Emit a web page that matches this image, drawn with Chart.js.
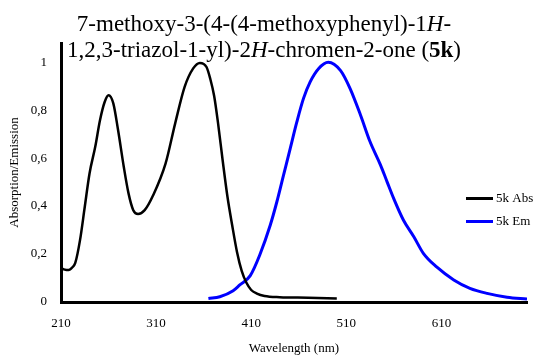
<!DOCTYPE html>
<html>
<head>
<meta charset="utf-8">
<script src="https://cdn.jsdelivr.net/npm/chart.js@4"></script>
<style>
  html, body { margin: 0; padding: 0; background: #fff; }
  #wrap { width: 536px; height: 356px; }
</style>
</head>
<body>
<div id="wrap"><canvas id="specChart" width="536" height="356"></canvas></div>
<script>
  // absorption (black)
  const absWl  = [210, 214, 218, 222, 225, 230, 235, 240, 246, 251, 256, 260, 265, 270, 276, 281, 286, 291, 298, 307, 320, 330, 340, 349, 356, 363, 367, 371, 375, 380, 385, 390, 395, 400, 405, 410, 416, 424, 440, 470, 500];
  const absVal = [0.142, 0.135, 0.133, 0.145, 0.163, 0.258, 0.397, 0.536, 0.647, 0.758, 0.835, 0.862, 0.828, 0.717, 0.564, 0.453, 0.383, 0.367, 0.383, 0.446, 0.578, 0.744, 0.897, 0.974, 0.997, 0.98, 0.93, 0.86, 0.75, 0.59, 0.44, 0.32, 0.21, 0.13, 0.08, 0.05, 0.035, 0.025, 0.02, 0.018, 0.015];

  // emission (blue)
  const emWl  = [365, 377, 391, 398, 409, 419, 430, 437, 444, 451, 458, 465, 472, 481, 491, 504, 514, 525, 535, 546, 553, 560, 570, 581, 591, 605, 623, 640, 658, 679, 700];
  const emVal = [0.015, 0.022, 0.047, 0.071, 0.11, 0.196, 0.32, 0.418, 0.529, 0.64, 0.751, 0.849, 0.918, 0.974, 1.0, 0.965, 0.89, 0.779, 0.668, 0.571, 0.5, 0.43, 0.342, 0.272, 0.203, 0.146, 0.092, 0.057, 0.036, 0.02, 0.012];

  const seriesNames = ['5k Abs', '5k Em'];
  const xTicks = [210, 310, 410, 510, 610];
  const yTicks = [0, 0.2, 0.4, 0.6, 0.8, 1];

  const serif = "'Liberation Serif', 'Times New Roman', serif";

  function pairs(xs, ys) {
    return xs.map((x, i) => ({ x: x, y: ys[i] }));
  }

  // title with italic H and bold 5k, drawn over the top of the plot
  const titleLines = [
    [['7-methoxy-3-(4-(4-methoxyphenyl)-1', ''], ['H', 'italic '], ['-', '']],
    [['1,2,3-triazol-1-yl)-2', ''], ['H', 'italic '], ['-chromen-2-one (', ''], ['5k', 'bold '], [')', '']]
  ];

  const titlePlugin = {
    id: 'richTitle',
    afterDraw(chart) {
      const ctx = chart.ctx;
      ctx.save();
      ctx.fillStyle = '#000';
      ctx.textBaseline = 'alphabetic';
      ctx.textAlign = 'left';
      const baselines = [31, 57];
      titleLines.forEach((segs, li) => {
        let total = 0;
        segs.forEach(s => {
          ctx.font = s[1] + '23px ' + serif;
          total += ctx.measureText(s[0]).width;
        });
        let x = 264 - total / 2;
        segs.forEach(s => {
          ctx.font = s[1] + '23px ' + serif;
          ctx.fillText(s[0], x, baselines[li]);
          x += ctx.measureText(s[0]).width;
        });
      });
      ctx.restore();
    }
  };

  const legendPlugin = {
    id: 'sideLegend',
    afterDraw(chart) {
      const ctx = chart.ctx;
      ctx.save();
      ctx.font = '13px ' + serif;
      ctx.textBaseline = 'middle';
      ctx.textAlign = 'left';
      chart.data.datasets.forEach((ds, i) => {
        const y = 198.5 + i * 23;
        ctx.strokeStyle = ds.borderColor;
        ctx.lineWidth = 3;
        ctx.beginPath();
        ctx.moveTo(466, y);
        ctx.lineTo(493, y);
        ctx.stroke();
        ctx.fillStyle = '#000';
        ctx.fillText(ds.label, 496, y + 0.5);
      });
      ctx.restore();
    }
  };

  new Chart(document.getElementById('specChart').getContext('2d'), {
    type: 'line',
    data: {
      datasets: [{
        label: seriesNames[0],
        data: pairs(absWl, absVal),
        borderColor: '#000000',
        borderWidth: 2.5,
        pointRadius: 0,
        cubicInterpolationMode: 'monotone'
      }, {
        label: seriesNames[1],
        data: pairs(emWl, emVal),
        borderColor: '#0000ff',
        borderWidth: 3,
        pointRadius: 0,
        cubicInterpolationMode: 'monotone'
      }]
    },
    options: {
      responsive: false,
      animation: false,
      layout: { padding: { top: 43, right: 9, left: 0, bottom: 0 } },
      plugins: {
        legend: { display: false },
        title: { display: false },
        tooltip: { enabled: false }
      },
      scales: {
        x: {
          type: 'linear',
          min: 210,
          max: 700,
          afterBuildTicks: axis => { axis.ticks = xTicks.map(v => ({ value: v })); },
          afterFit: axis => { axis.height = 54; },
          grid: { display: false, drawTicks: false },
          border: { display: true, color: '#000', width: 3 },
          ticks: {
            color: '#000',
            padding: 14,
            maxRotation: 0,
            font: { family: serif, size: 13 }
          },
          title: {
            display: true,
            text: 'Wavelength (nm)',
            color: '#000',
            padding: { top: 4, bottom: 0 },
            font: { family: serif, size: 13 }
          }
        },
        y: {
          min: 0,
          max: 1.08,
          afterBuildTicks: axis => { axis.ticks = yTicks.map(v => ({ value: v })); },
          afterFit: axis => { axis.width = 61; },
          grid: { display: false, drawTicks: false },
          border: { display: true, color: '#000', width: 3 },
          ticks: {
            color: '#000',
            padding: 14,
            font: { family: serif, size: 13 },
            callback: v => String(Math.round(v * 10) / 10).replace('.', ',')
          },
          title: {
            display: true,
            text: 'Absorption/Emission',
            color: '#000',
            padding: { top: 7, bottom: 0 },
            font: { family: serif, size: 13 }
          }
        }
      }
    },
    plugins: [titlePlugin, legendPlugin]
  });
</script>
</body>
</html>
